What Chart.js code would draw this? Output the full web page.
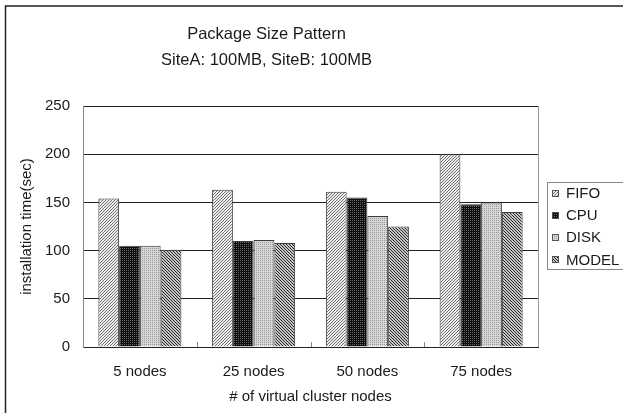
<!DOCTYPE html>
<html>
<head>
<meta charset="utf-8">
<script src="https://cdn.jsdelivr.net/npm/chart.js@4"></script>
<style>
  html, body { margin: 0; padding: 0; background: #fff; }
  canvas { display: block; }
</style>
</head>
<body>
<canvas id="chart" width="623" height="413"></canvas>
<script>
// ===== Data =====
const categories = ['5 nodes', '25 nodes', '50 nodes', '75 nodes'];
const seriesNames = ['FIFO', 'CPU', 'DISK', 'MODEL'];
const fifoTimes  = [154, 163, 161, 200];
const cpuTimes   = [105, 110, 155, 148];
const diskTimes  = [105, 111, 136, 150];
const modelTimes = [101, 108, 125, 140];
const yTicks = [0, 50, 100, 150, 200, 250];
const titleLines = ['Package Size Pattern', 'SiteA: 100MB, SiteB: 100MB'];

const FONT = '"Liberation Sans", Arial, sans-serif';

// ===== Fill patterns (small tiles) =====
function makePattern(size, bg, fg, cells) {
  const c = document.createElement('canvas');
  c.width = size; c.height = size;
  const g = c.getContext('2d');
  g.fillStyle = bg; g.fillRect(0, 0, size, size);
  g.fillStyle = fg;
  cells.forEach(([x, y]) => g.fillRect(x, y, 1, 1));
  return g.createPattern(c, 'repeat');
}
const ctx = document.getElementById('chart').getContext('2d');
const patFifo  = makePattern(3, '#eeeeee', '#707070', [[2,0],[1,1],[0,2]]);      // light "/"
const patCpu   = makePattern(2, '#0d0d0d', '#6a6a6a', [[0,0]]);                  // dark dots
const patDisk  = makePattern(2, '#d6d6d6', '#9a9a9a', [[0,0]]);                  // light dots
const patModel = makePattern(3, '#c4c4c4', '#2a2a2a', [[0,0],[1,1],[2,2]]);     // dark "\"
const fills = [patFifo, patCpu, patDisk, patModel];

// ===== Plugins =====
const frame = {
  id: 'frame',
  beforeDraw(chart) {
    const c = chart.ctx;
    c.save();
    c.fillStyle = '#fff';
    c.fillRect(0, 0, chart.width, chart.height);
    c.strokeStyle = '#222';
    c.lineWidth = 1.5;
    c.beginPath();
    c.moveTo(5.5, chart.height);
    c.lineTo(5.5, 6);
    c.lineTo(chart.width, 6);
    c.stroke();
    c.restore();
  },
  afterDraw(chart) {
    const c = chart.ctx, a = chart.chartArea, xs = chart.scales.x;
    c.save();
    // right side of plot area
    c.strokeStyle = '#999';
    c.lineWidth = 1;
    c.beginPath();
    c.moveTo(Math.round(a.right) + 0.5, a.top);
    c.lineTo(Math.round(a.right) + 0.5, a.bottom);
    c.stroke();
    // short category tick marks between groups
    c.strokeStyle = '#888';
    for (let i = 1; i < categories.length; i++) {
      const x = Math.round((xs.getPixelForTick(i - 1) + xs.getPixelForTick(i)) / 2) + 0.5;
      c.beginPath();
      c.moveTo(x, a.bottom);
      c.lineTo(x, a.bottom - 5);
      c.stroke();
    }
    // title
    c.fillStyle = '#1a1a1a';
    c.font = '16.5px ' + FONT;
    c.textAlign = 'center';
    c.textBaseline = 'middle';
    titleLines.forEach((t, i) => c.fillText(t, 266.5, 34 + i * 26));
    // legend
    c.strokeStyle = '#888';
    c.strokeRect(547.5, 182.5, 90, 87);
    c.font = '15px ' + FONT;
    c.textAlign = 'left';
    chart.data.datasets.forEach((ds, i) => {
      const y = 193.5 + i * 22.3;
      c.fillStyle = ds.backgroundColor;
      c.fillRect(552, Math.round(y) - 4, 7, 7);
      c.strokeStyle = '#555';
      c.strokeRect(552.5, Math.round(y) - 3.5, 6, 6);
      c.fillStyle = '#1a1a1a';
      c.fillText(ds.label, 566, y);
    });
    c.restore();
  }
};

// ===== Chart =====
new Chart(ctx, {
  type: 'bar',
  data: {
    labels: categories,
    datasets: [fifoTimes, cpuTimes, diskTimes, modelTimes].map((d, i) => ({
      label: seriesNames[i],
      data: d,
      backgroundColor: fills[i],
      borderColor: '#3a3a3a',
      borderWidth: 1,
      borderSkipped: 'bottom',
      categoryPercentage: 0.73,
      barPercentage: 1.0
    }))
  },
  options: {
    responsive: false,
    animation: false,
    layout: { padding: { top: 106, right: 85, left: 0, bottom: 0 } },
    plugins: { legend: { display: false }, title: { display: false }, tooltip: { enabled: false } },
    scales: {
      x: {
        afterFit: s => { s.height = 66; },
        grid: { display: false },
        border: { display: true, color: '#222', width: 1 },
        ticks: { color: '#1a1a1a', font: { family: FONT, size: 15 }, padding: 8, maxRotation: 0 },
        title: { display: true, text: '# of virtual cluster nodes', color: '#1a1a1a',
                 font: { family: FONT, size: 15 }, padding: { top: 0, bottom: 7 } }
      },
      y: {
        min: 0, max: 250,
        afterFit: s => { s.width = 83; },
        afterBuildTicks: s => { s.ticks = yTicks.map(v => ({ value: v })); },
        grid: { color: '#222', lineWidth: 1, drawTicks: false },
        border: { display: true, color: '#888', width: 1 },
        ticks: { color: '#1a1a1a', font: { family: FONT, size: 15 }, padding: 13 },
        title: { display: true, text: 'installation time(sec)', color: '#1a1a1a',
                 font: { family: FONT, size: 15 }, padding: { top: 18, bottom: 0 } }
      }
    }
  },
  plugins: [frame]
});
</script>
</body>
</html>
